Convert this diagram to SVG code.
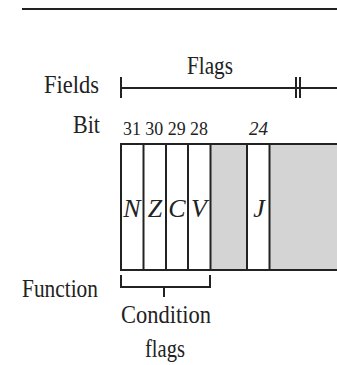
<svg xmlns="http://www.w3.org/2000/svg" width="337" height="365" viewBox="0 0 337 365">
<defs>
<style>
.ln{stroke:#222;stroke-width:2;fill:none}
.gray{fill:#d4d4d4}
</style>
</defs>
<rect width="337" height="365" fill="#fff"/>
<line class="ln" x1="22" y1="9" x2="337" y2="9" stroke-width="2.5"/>
<g id="labels">
<text x="44" y="93" font-family="Liberation Serif" font-size="26" fill="#222" textLength="55" lengthAdjust="spacingAndGlyphs">Fields</text>
<text x="73" y="133" font-family="Liberation Serif" font-size="25" fill="#222" textLength="27" lengthAdjust="spacingAndGlyphs">Bit</text>
<text x="22" y="297" font-family="Liberation Serif" font-size="26" fill="#222" textLength="76" lengthAdjust="spacingAndGlyphs">Function</text>
</g>
<g id="fields">
<text x="187" y="74" font-family="Liberation Serif" font-size="26" fill="#222" textLength="46" lengthAdjust="spacingAndGlyphs">Flags</text>
<line class="ln" x1="121" y1="88" x2="337" y2="88"/>
<line class="ln" x1="121" y1="77" x2="121" y2="98"/>
<line class="ln" x1="296" y1="77" x2="296" y2="98"/>
<line class="ln" x1="300" y1="77" x2="300" y2="98"/>
</g>
<g id="bits">
<text x="123" y="135" font-family="Liberation Serif" font-size="19" fill="#222" textLength="85" lengthAdjust="spacingAndGlyphs">31 30 29 28</text>
<text x="249" y="135" font-family="Liberation Serif" font-size="19" font-style="italic" fill="#222">24</text>
</g>
<g id="register">
<rect class="gray" x="210" y="144" width="37" height="126"/>
<rect class="gray" x="270" y="144" width="67" height="126"/>
<line class="ln" x1="121" y1="144" x2="337" y2="144"/>
<line class="ln" x1="121" y1="270" x2="337" y2="270"/>
<line class="ln" x1="121" y1="143" x2="121" y2="271"/>
<line class="ln" x1="143.5" y1="144" x2="143.5" y2="270"/>
<line class="ln" x1="166" y1="144" x2="166" y2="270"/>
<line class="ln" x1="188" y1="144" x2="188" y2="270"/>
<line class="ln" x1="210.5" y1="144" x2="210.5" y2="270"/>
<line class="ln" x1="247" y1="144" x2="247" y2="270"/>
<line class="ln" x1="269.5" y1="144" x2="269.5" y2="270"/>
<text x="132" y="217" font-family="Liberation Serif" font-size="26" font-style="italic" text-anchor="middle" fill="#222">N</text>
<text x="155" y="217" font-family="Liberation Serif" font-size="26" font-style="italic" text-anchor="middle" fill="#222">Z</text>
<text x="177" y="217" font-family="Liberation Serif" font-size="26" font-style="italic" text-anchor="middle" fill="#222">C</text>
<text x="199" y="217" font-family="Liberation Serif" font-size="26" font-style="italic" text-anchor="middle" fill="#222">V</text>
<text x="259" y="217" font-family="Liberation Serif" font-size="26" font-style="italic" text-anchor="middle" fill="#222">J</text>
</g>
<g id="connectors">
<path class="ln" d="M121 275 V287 H210 V275"/>
<line class="ln" x1="164" y1="287" x2="164" y2="297"/>
</g>
<g id="condition">
<text x="121" y="323" font-family="Liberation Serif" font-size="26" fill="#222" textLength="90" lengthAdjust="spacingAndGlyphs">Condition</text>
<text x="145" y="357" font-family="Liberation Serif" font-size="26" fill="#222" textLength="40" lengthAdjust="spacingAndGlyphs">flags</text>
</g>
</svg>
